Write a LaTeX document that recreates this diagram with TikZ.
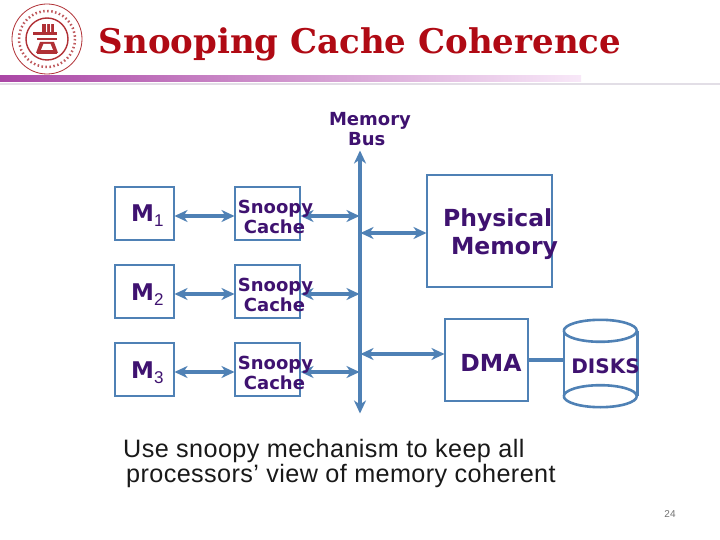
\documentclass[tikz,border=0pt]{standalone}
\usepackage{fontspec}
\setmainfont{Liberation Sans}
\newfontfamily\vfont{DejaVu Sans}
\newfontfamily\tfont{DejaVu Serif}
\usetikzlibrary{arrows.meta}
\definecolor{boxblue}{HTML}{4F81B5}
\definecolor{inkpurple}{HTML}{3F1270}
\definecolor{titlered}{HTML}{B00A14}
\definecolor{logored}{HTML}{B03035}
\definecolor{barleft}{HTML}{AA46A5}
\definecolor{barright}{HTML}{F8E8F8}
\definecolor{rulegray}{HTML}{E2DEE6}
\tikzset{
 x=1pt,y=-1pt,
 boxed/.style={draw=boxblue,line width=2.6pt,minimum width=#1,inner sep=0pt,outer sep=0pt},
 lbl/.style={text=inkpurple,font=\vfont\bfseries\fontsize{18}{20.5}\selectfont,align=left,inner sep=0pt},
 big/.style={text=inkpurple,font=\vfont\bfseries\fontsize{23.5}{28}\selectfont,align=left,inner sep=0pt},
 mlabel/.style={text=inkpurple,font=\vfont\bfseries\fontsize{23}{28}\selectfont,inner sep=0pt},
 link/.style={draw=boxblue,line width=3.6pt,{Stealth[length=13pt,width=12pt,inset=4pt]}-{Stealth[length=13pt,width=12pt,inset=4pt]},shorten <=0.5pt,shorten >=0.5pt},
 plain/.style={draw=boxblue,line width=3.6pt},
 cyl/.style={draw=boxblue,line width=2.6pt},
 logoline/.style={draw=logored,line width=1pt},
}
\newcommand{\mysub}[1]{\raisebox{-5pt}{\mdseries\fontsize{17}{17}\selectfont\fontspec{Liberation Sans}#1}}
\begin{document}
\begin{tikzpicture}
\useasboundingbox (0,0) rectangle (720,540);
\fill[white] (0,0) rectangle (720,540);
% logo
\begin{scope}[shift={(47,39)}]
 \draw[logoline,line width=0.8pt] (0,0) circle (35);
 \draw[logoline,line width=2.5pt,dash pattern=on 1.5pt off 2.5pt,opacity=.8] (0,0) circle (28);
 \draw[logoline,line width=1.4pt] (0,0) circle (21);
 \fill[logored] (-14,-7) rectangle (10,-3.5);
 \fill[logored] (-5,-15) rectangle (7,-7);
 \fill[white] (-1,-15) rectangle (0,-7) (3,-15) rectangle (4,-7);
 \fill[logored] (-10,-1) rectangle (10,1.5);
 \fill[logored] (-7,3) -- (7,3) -- (11,14) -- (-11,14) -- cycle;
 \fill[white] (-3.5,5) -- (3.5,5) -- (6,11) -- (-6,11) -- cycle;
 \fill[logored] (-10,12) rectangle (10,15);
\end{scope}
% title and rule
\node[anchor=center,text=titlered,inner sep=0pt,font=\tfont\bfseries\fontsize{34}{40}\selectfont] (title) at (360,44) {Snooping Cache Coherence};
\shade[left color=barleft,right color=barright] (0,76) rectangle (581,82);
\fill[rulegray] (0,83) rectangle (720,85);
% bus
\coordinate (bustop) at (360,150);
\coordinate (busbot) at (360,414);
\draw[link] (bustop) -- (busbot);
\node[lbl,anchor=center] (buslabel) at (370,129) {Memory\\\hspace*{19pt}Bus};
% memory modules
\node[boxed=59pt,minimum height=53pt] (m1) at (144.5,213.5) {};
\node[boxed=59pt,minimum height=53pt] (m2) at (144.5,291.5) {};
\node[boxed=59pt,minimum height=53pt] (m3) at (144.5,369.5) {};
\node[mlabel,anchor=base west] (m1t) at (131,222) {M\mysub{1}};
\node[mlabel,anchor=base west] (m2t) at (131,300) {M\mysub{2}};
\node[mlabel,anchor=base west] (m3t) at (131,378) {M\mysub{3}};
% caches
\node[boxed=65pt,minimum height=53pt] (c1) at (267.5,213.5) {};
\node[boxed=65pt,minimum height=53pt] (c2) at (267.5,291.5) {};
\node[boxed=65pt,minimum height=53pt] (c3) at (267.5,369.5) {};
% bus taps
\coordinate (b1) at (360,216);
\coordinate (b2) at (360,294);
\coordinate (b3) at (360,372);
\coordinate (b4) at (360,233);
\coordinate (b5) at (360,354);
\coordinate (m1e) at (m1.east |- b1); \coordinate (c1w) at (c1.west |- b1); \coordinate (c1e) at (c1.east |- b1);
\coordinate (m2e) at (m2.east |- b2); \coordinate (c2w) at (c2.west |- b2); \coordinate (c2e) at (c2.east |- b2);
\coordinate (m3e) at (m3.east |- b3); \coordinate (c3w) at (c3.west |- b3); \coordinate (c3e) at (c3.east |- b3);
\draw[link] (m1e) -- (c1w); \draw[link] (c1e) -- (b1);
\draw[link] (m2e) -- (c2w); \draw[link] (c2e) -- (b2);
\draw[link] (m3e) -- (c3w); \draw[link] (c3e) -- (b3);
\node[lbl,anchor=center] (c1t) at (275.5,217) {Snoopy\\\hspace*{6pt}Cache};
\node[lbl,anchor=center] (c2t) at (275.5,295) {Snoopy\\\hspace*{6pt}Cache};
\node[lbl,anchor=center] (c3t) at (275.5,373) {Snoopy\\\hspace*{6pt}Cache};
% physical memory
\node[boxed=125pt,minimum height=112pt] (pm) at (489.5,231) {};
\node[big,anchor=center] (pmt) at (500.5,234) {Physical\\\hspace*{8pt}Memory};
\coordinate (pmw) at (pm.west |- b4);
\draw[link] (b4) -- (pmw);
% DMA
\node[boxed=83pt,minimum height=82pt] (dma) at (486.5,360) {};
\node[big,anchor=center] (dmat) at (491,363) {DMA};
\coordinate (dmaw) at (dma.west |- b5);
\draw[link] (b5) -- (dmaw);
% disks
\node[minimum width=73pt,minimum height=65pt,inner sep=0pt] (disk) at (600.5,363.5) {};
\draw[cyl] (disk.north west) arc[start angle=180,end angle=540,x radius=36.5,y radius=11];
\draw[cyl] (disk.south west) arc[start angle=180,end angle=540,x radius=36.5,y radius=11];
\draw[cyl] (disk.north west) -- (disk.south west) (disk.north east) -- (disk.south east);
\node[lbl,anchor=center,font=\vfont\bfseries\fontsize{20}{22}\selectfont] (diskt) at (605.5,366) {DISKS};
\coordinate (diskw) at (disk.west |- dma.east);
\draw[plain] (dma.east) -- (diskw);
% note
\node[anchor=north west,inner sep=0pt,align=left,text=black!90,font=\addfontfeature{LetterSpace=1.6}\fontsize{25.2}{25}\selectfont] (note) at (123,439.5) {Use snoopy mechanism to keep all\\\hspace*{3pt}processors’ view of memory coherent};
\node[inner sep=0pt,text=black!55,font=\fontsize{10}{12}\selectfont] (page) at (670,514) {24};
\end{tikzpicture}
\end{document}
